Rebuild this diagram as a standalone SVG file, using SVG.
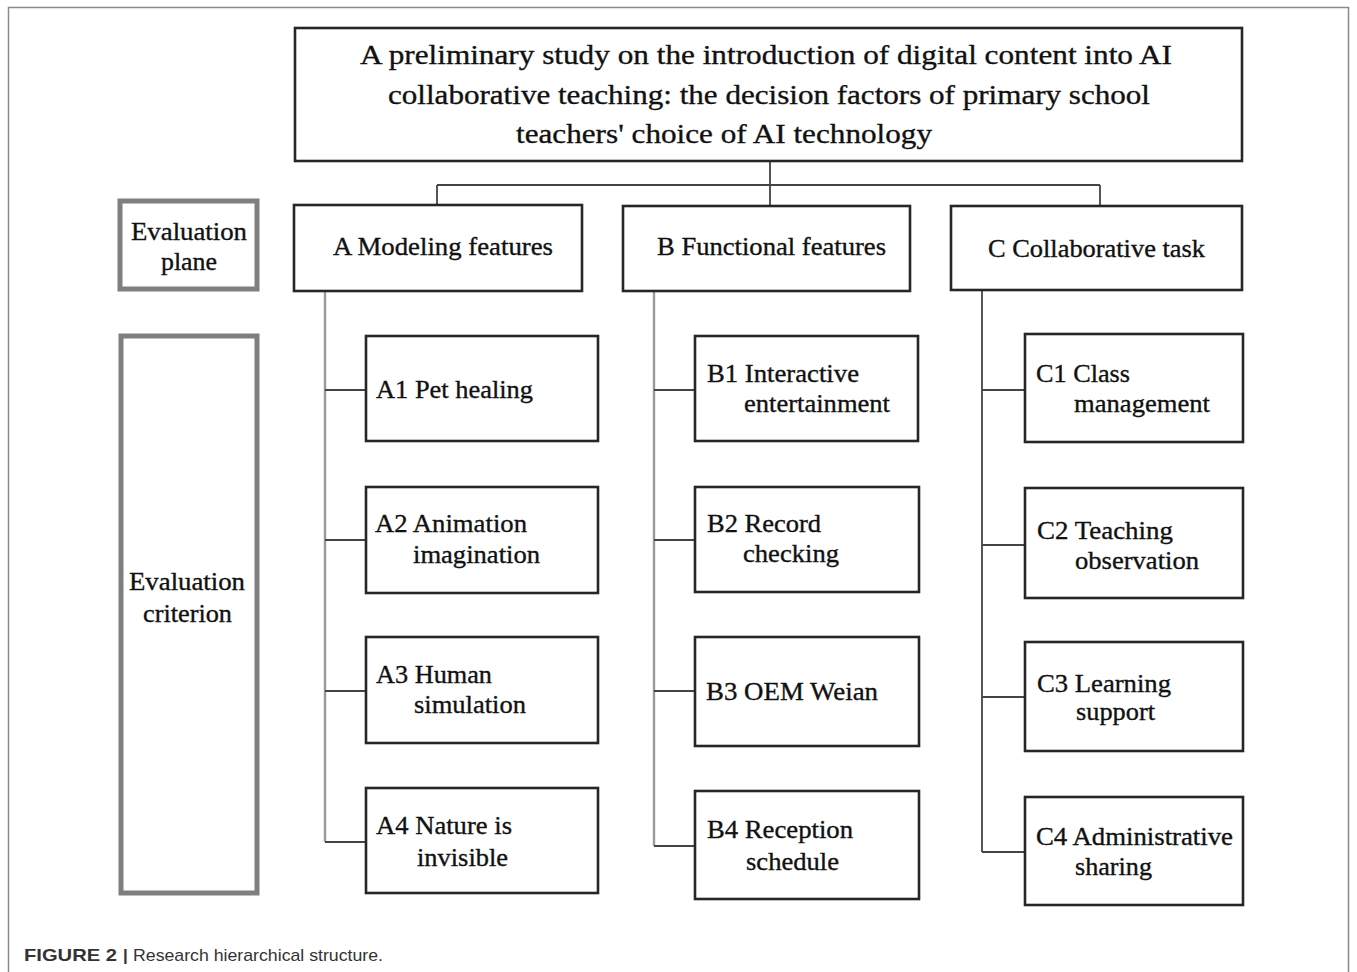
<svg xmlns="http://www.w3.org/2000/svg" width="1357" height="972" viewBox="0 0 1357 972">
<style>
.box{fill:#fff;stroke:#262626;stroke-width:2.6}
.gbox{fill:#fff;stroke:#7f7f7f;stroke-width:5}
.t{font-family:"Liberation Serif","Times New Roman",serif;font-size:26px;fill:#111;stroke:#111;stroke-width:0.35}
.tt{font-family:"Liberation Serif","Times New Roman",serif;font-size:28px;fill:#111;stroke:#111;stroke-width:0.35}
.ln{fill:none;stroke:#444;stroke-width:1.8}
.gl{fill:none;stroke:#9a9a9a;stroke-width:2.4}
.cap{font-family:"Liberation Sans",Arial,sans-serif;font-size:17px;fill:#333}
</style>
<rect x="0" y="0" width="1357" height="972" fill="#fff"/>
<path d="M8.5 972 V7.5 H1348.5 V972" fill="none" stroke="#8a8a8a" stroke-width="1.5"/>

<g id="connectors">
<path class="ln" d="M770 161 V185 M437 185 H1100 M437 185 V205 M770 185 V206 M1100 185 V206"/>
<path class="gl" d="M325 291 V842"/>
<path class="ln" d="M325 390 H366 M325 540 H366 M325 691 H366 M325 842 H366"/>
<path class="gl" d="M654 291 V846"/>
<path class="ln" d="M654 390 H695 M654 540 H695 M654 691 H695 M654 846 H695"/>
<path class="ln" d="M982 290 V852"/>
<path class="ln" d="M982 390 H1025 M982 545 H1025 M982 697 H1025 M982 852 H1025"/>
</g>

<g id="title">
<rect class="box" x="295" y="28" width="947" height="133"/>
<text class="tt" x="360" y="64" textLength="812" lengthAdjust="spacingAndGlyphs">A preliminary study on the introduction of digital content into AI</text>
<text class="tt" x="388" y="104" textLength="762" lengthAdjust="spacingAndGlyphs">collaborative teaching: the decision factors of primary school</text>
<text class="tt" x="516" y="143" textLength="416" lengthAdjust="spacingAndGlyphs">teachers' choice of AI technology</text>
</g>

<g id="eval-plane">
<rect class="gbox" x="120" y="201" width="137" height="88"/>
<text class="t" x="131" y="240" textLength="116" lengthAdjust="spacingAndGlyphs">Evaluation</text>
<text class="t" x="161" y="270" textLength="56" lengthAdjust="spacingAndGlyphs">plane</text>
</g>

<g id="eval-criterion">
<rect class="gbox" x="121" y="336" width="136" height="557"/>
<text class="t" x="129" y="590" textLength="116" lengthAdjust="spacingAndGlyphs">Evaluation</text>
<text class="t" x="143" y="622" textLength="89" lengthAdjust="spacingAndGlyphs">criterion</text>
</g>

<g id="A">
<rect class="box" x="294" y="205" width="288" height="86"/>
<text class="t" x="333" y="255" textLength="220" lengthAdjust="spacingAndGlyphs">A Modeling features</text>
</g>
<g id="B">
<rect class="box" x="623" y="206" width="287" height="85"/>
<text class="t" x="657" y="255" textLength="229" lengthAdjust="spacingAndGlyphs">B Functional features</text>
</g>
<g id="C">
<rect class="box" x="951" y="206" width="291" height="84"/>
<text class="t" x="988" y="257" textLength="217" lengthAdjust="spacingAndGlyphs">C Collaborative task</text>
</g>

<g id="A1">
<rect class="box" x="366" y="336" width="232" height="105"/>
<text class="t" x="376" y="398" textLength="157" lengthAdjust="spacingAndGlyphs">A1 Pet healing</text>
</g>
<g id="A2">
<rect class="box" x="366" y="487" width="232" height="106"/>
<text class="t" x="375" y="532" textLength="152" lengthAdjust="spacingAndGlyphs">A2 Animation</text>
<text class="t" x="413" y="563" textLength="127" lengthAdjust="spacingAndGlyphs">imagination</text>
</g>
<g id="A3">
<rect class="box" x="366" y="637" width="232" height="106"/>
<text class="t" x="376" y="683" textLength="116" lengthAdjust="spacingAndGlyphs">A3 Human</text>
<text class="t" x="414" y="713" textLength="112" lengthAdjust="spacingAndGlyphs">simulation</text>
</g>
<g id="A4">
<rect class="box" x="366" y="788" width="232" height="105"/>
<text class="t" x="376" y="834" textLength="136" lengthAdjust="spacingAndGlyphs">A4 Nature is</text>
<text class="t" x="417" y="866" textLength="91" lengthAdjust="spacingAndGlyphs">invisible</text>
</g>

<g id="B1">
<rect class="box" x="695" y="336" width="223" height="105"/>
<text class="t" x="707" y="382" textLength="152" lengthAdjust="spacingAndGlyphs">B1 Interactive</text>
<text class="t" x="744" y="412" textLength="146" lengthAdjust="spacingAndGlyphs">entertainment</text>
</g>
<g id="B2">
<rect class="box" x="695" y="487" width="224" height="105"/>
<text class="t" x="707" y="532" textLength="114" lengthAdjust="spacingAndGlyphs">B2 Record</text>
<text class="t" x="743" y="562" textLength="96" lengthAdjust="spacingAndGlyphs">checking</text>
</g>
<g id="B3">
<rect class="box" x="695" y="637" width="224" height="109"/>
<text class="t" x="706" y="700" textLength="172" lengthAdjust="spacingAndGlyphs">B3 OEM Weian</text>
</g>
<g id="B4">
<rect class="box" x="695" y="791" width="224" height="108"/>
<text class="t" x="707" y="838" textLength="146" lengthAdjust="spacingAndGlyphs">B4 Reception</text>
<text class="t" x="746" y="870" textLength="93" lengthAdjust="spacingAndGlyphs">schedule</text>
</g>

<g id="C1">
<rect class="box" x="1025" y="334" width="218" height="108"/>
<text class="t" x="1036" y="382" textLength="94" lengthAdjust="spacingAndGlyphs">C1 Class</text>
<text class="t" x="1074" y="412" textLength="136" lengthAdjust="spacingAndGlyphs">management</text>
</g>
<g id="C2">
<rect class="box" x="1025" y="488" width="218" height="110"/>
<text class="t" x="1037" y="539" textLength="136" lengthAdjust="spacingAndGlyphs">C2 Teaching</text>
<text class="t" x="1075" y="569" textLength="124" lengthAdjust="spacingAndGlyphs">observation</text>
</g>
<g id="C3">
<rect class="box" x="1025" y="642" width="218" height="109"/>
<text class="t" x="1037" y="692" textLength="134" lengthAdjust="spacingAndGlyphs">C3 Learning</text>
<text class="t" x="1076" y="720" textLength="79" lengthAdjust="spacingAndGlyphs">support</text>
</g>
<g id="C4">
<rect class="box" x="1025" y="797" width="218" height="108"/>
<text class="t" x="1036" y="845" textLength="197" lengthAdjust="spacingAndGlyphs">C4 Administrative</text>
<text class="t" x="1075" y="875" textLength="77" lengthAdjust="spacingAndGlyphs">sharing</text>
</g>

<g id="caption">
<text class="cap" x="24" y="961" font-weight="bold" textLength="93" lengthAdjust="spacingAndGlyphs">FIGURE 2</text>
<text class="cap" x="123" y="961" font-weight="bold">|</text>
<text class="cap" x="133" y="961" textLength="250" lengthAdjust="spacingAndGlyphs">Research hierarchical structure.</text>
</g>
</svg>
